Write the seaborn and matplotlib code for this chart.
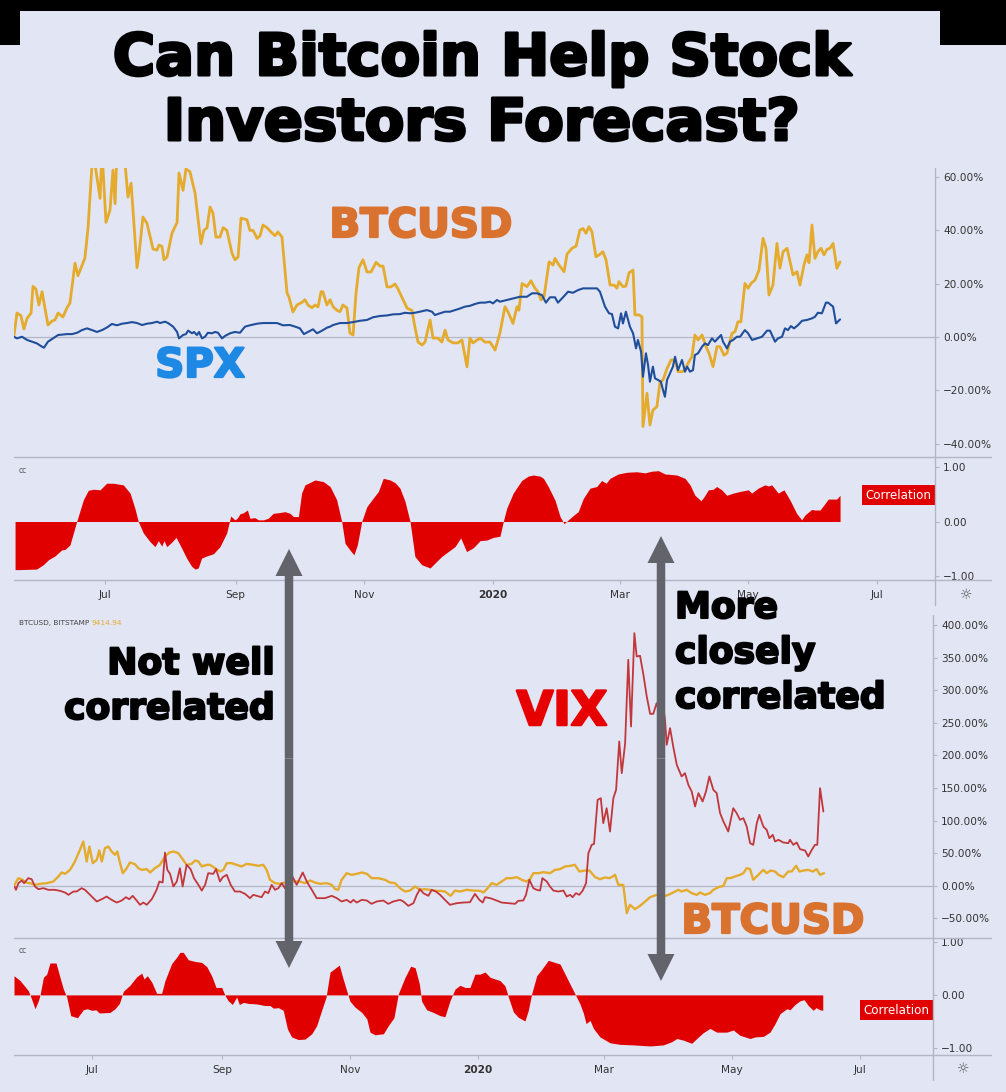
import numpy as np
import pandas as pd
import matplotlib
matplotlib.use('Agg')
import matplotlib.pyplot as plt
import matplotlib.transforms as mtrans
import matplotlib.patheffects as pe
from matplotlib.patches import Rectangle, FancyArrow
from matplotlib.lines import Line2D
import seaborn as sns

# ---- data (day offsets from series start, value) ----
top_start = '2019-05-19'
bottom_start = '2019-05-25'

btc_top = [(0, 0.7), (1.4, 9), (3.3, 8), (4.7, 3), (6.2, 7), (8.1, 9), (9.0, 19), (10.4, 18), (11.8, 12), (13.3, 17),
           (16.1, 4.5), (18.0, 6), (19.4, 6.4), (20.9, 9), (23.2, 7.5), (25.1, 11), (26.5, 12.7), (28.9, 27.7), (30.3, 23),
           (33.6, 29.6), (35.1, 41), (37.4, 70), (40.8, 52), (41.7, 70), (43.6, 43), (45.5, 47.6), (46.9, 62.6), (47.9, 50),
           (48.8, 70), (52.1, 70), (54.0, 52.5), (55.5, 57.7), (58.3, 26), (59.2, 30.7), (61.1, 45), (63.0, 42.7), (65.9, 33),
           (67.8, 32.6), (68.7, 34.5), (70.1, 34), (71.1, 29), (72.5, 30), (74.9, 39), (77.3, 43), (78.2, 61.5), (80.1, 55),
           (81.5, 63), (83.4, 62), (85.8, 54), (88.6, 35), (90.0, 40), (91.5, 41), (92.9, 48.8), (94.3, 46.5), (95.7, 37.5),
           (97.6, 37.5), (99.1, 41), (100.9, 40), (103.3, 31.5), (104.7, 29), (106.2, 30), (107.6, 44.6), (110.4, 44),
           (111.8, 40), (113.3, 40), (115.2, 37), (116.6, 38), (118.0, 42), (119.9, 41), (122.3, 39), (123.7, 38), (125.1, 39.4),
           (127.0, 37.5), (129.4, 16.5), (130.3, 15), (132.2, 9.4), (134.1, 12), (136.5, 13), (137.9, 14), (139.3, 12),
           (141.2, 11), (142.7, 12), (144.1, 11.3), (145.5, 17), (146.4, 17), (148.3, 12), (149.8, 14), (151.2, 11.4),
           (153.1, 10), (154.5, 9.5), (155.9, 12), (157.8, 10.9), (159.2, 1.5), (160.7, 0.75), (162.1, 16.5), (163.5, 26),
           (165.4, 29), (167.3, 24.4), (169.2, 24.4), (171.6, 28), (173.5, 26.6), (174.9, 26.6), (176.8, 18.8), (178.7, 18.8),
           (180.6, 19.9), (182.0, 18), (184.4, 14), (186.3, 10.8), (188.6, 10), (190.0, 3.8), (191.5, -1.9), (193.4, -3),
           (194.8, -1.9), (197.2, 6.4), (198.6, -0.4), (200.9, -0.4), (202.8, -1.9), (204.3, 2.6), (205.7, -1.1), (208.1, -2.2),
           (210.4, -2.2), (212.3, -1.1), (214.7, -11.2), (216.1, -0.4), (217.5, -2.2), (220.9, -0.4), (223.2, -1.9),
           (225.6, -1.9), (228.0, -4.9), (230.3, 1.5), (232.7, 11.4), (234.1, 9.5), (236.5, 5.1), (238.4, 11.4), (239.3, 10.1),
           (240.8, 20.1), (243.1, 18.9), (245.0, 21.1), (246.9, 18.3), (248.3, 17), (249.8, 13.9), (251.2, 15.1), (253.6, 28.2),
           (255.5, 27), (256.4, 29.5), (258.3, 27), (260.7, 24.5), (262.1, 31.1), (264.5, 33.3), (266.4, 34.1), (268.2, 40.1),
           (269.7, 40.7), (271.1, 38.9), (272.5, 41.4), (273.9, 39.5), (275.8, 30.1), (277.3, 30.8), (279.1, 32), (280.6, 28.9),
           (282.5, 19.5), (284.4, 19.5), (285.8, 18.3), (286.7, 20.8), (288.6, 18.9), (290.0, 19.1), (291.5, 24.1),
           (293.4, 25.1), (294.3, 8.3), (296.2, 8.3), (297.6, 7.6), (298.1, -33.6), (300.0, -21.1), (301.4, -33),
           (302.8, -27.4), (304.7, -26.1), (306.2, -16.8), (307.6, -16.1), (309.5, -11.8), (311.4, -8.6), (312.3, -8.6),
           (313.7, -9.9), (314.7, -13), (316.6, -13), (318.0, -12.4), (319.4, -9.9), (321.3, -7.4), (322.7, 0.75),
           (324.2, -1.1), (326.1, 0.75), (328.0, -3.6), (329.4, -6.1), (331.3, -11.1), (333.2, -3.6), (334.6, -3.6),
           (336.5, -6.8), (337.9, -6.1), (340.3, 1.4), (341.7, 2), (343.1, 5.7), (344.5, 5.7), (346.4, 20.1), (347.9, 18.3),
           (349.3, 20.1), (351.2, 21.4), (353.1, 25.1), (355.0, 37), (356.4, 33.3), (357.8, 15.8), (359.7, 19.5),
           (361.6, 35.1), (363.0, 25.8), (364.5, 32), (366.4, 33.3), (369.2, 23.3), (371.1, 24.5), (372.5, 19.5),
           (374.4, 27), (375.8, 30.8), (376.8, 27.9), (378.2, 42), (379.6, 29.5), (381.0, 32), (382.5, 33.3), (383.9, 30.8),
           (385.3, 32.9), (386.7, 33.3), (388.2, 35.1), (390.0, 25.8), (391.5, 28.2)]

spx_top = [(0, 0.1), (1.4, -0.5), (3.8, 0.1), (6.2, -1.1), (8.5, -1.75), (10.9, -2.4), (12.8, -3.4), (14.2, -4.0),
           (16.1, -1.75), (18.5, -0.5), (20.9, 0.75), (25.1, 1.1), (27.5, 1.1), (29.9, 1.6), (32.2, 2.6), (34.6, 3.25),
           (37.0, 2.6), (39.3, 1.9), (41.7, 2.6), (44.1, 3.6), (46.4, 4.9), (48.8, 4.4), (51.2, 5.0), (53.6, 5.25),
           (55.9, 5.6), (58.3, 5.25), (60.7, 4.5), (63.0, 5.0), (65.4, 5.25), (67.8, 5.75), (69.2, 5.25), (71.6, 5.75),
           (73.0, 5.25), (75.4, 3.9), (77.3, 1.9), (78.2, -0.5), (80.1, 0.75), (81.5, 1.1), (82.5, 2.4), (84.4, 1.4),
           (85.3, 1.9), (86.7, 0.75), (87.7, 1.9), (89.1, -0.5), (90.5, 0.1), (91.9, 1.6), (93.8, 1.4), (95.3, 1.9),
           (96.7, 1.6), (98.6, -0.5), (100.0, 0.4), (102.4, 1.4), (104.7, 1.9), (107.1, 1.6), (109.5, 3.9), (111.8, 4.4),
           (115.2, 5.0), (118.0, 5.25), (121.3, 5.25), (124.6, 5.25), (127.5, 4.4), (130.8, 4.5), (133.2, 3.9), (135.5, 3.25),
           (137.4, 1.1), (139.3, 1.9), (141.7, 2.9), (143.6, 1.4), (146.0, 2.4), (148.3, 3.5), (149.8, 3.9), (151.2, 4.5),
           (154.5, 5.25), (157.8, 5.25), (160.7, 5.6), (164.0, 6.1), (167.3, 6.4), (170.1, 7.4), (173.5, 7.9), (176.8, 8.1),
           (179.6, 8.5), (182.9, 8.6), (185.3, 9.1), (187.7, 8.9), (190.0, 9.1), (192.4, 9.5), (195.7, 10.1), (198.1, 9.5),
           (199.5, 8.25), (201.9, 8.9), (204.3, 9.5), (206.6, 9.5), (209.0, 10.1), (211.4, 10.7), (213.7, 11.4), (216.1, 11.7),
           (218.5, 12.4), (220.9, 12.9), (223.2, 12.9), (225.6, 13.25), (227.0, 12.6), (228.9, 13.9), (230.3, 13.25),
           (233.6, 13.9), (236.5, 14.5), (239.8, 15.1), (243.1, 15.1), (245.5, 16.4), (247.9, 16.4), (250.2, 15.75),
           (252.1, 12.9), (254.0, 14.9), (256.4, 14.9), (257.8, 12.9), (260.2, 14.9), (262.6, 17), (264.9, 16.6), (267.3, 17.6),
           (269.7, 18.25), (273.0, 18.25), (276.3, 18.25), (277.7, 17), (280.1, 11.4), (282.0, 8.9), (283.4, 8.6), (284.8, 3.9),
           (286.3, 3.25), (287.7, 8.9), (288.6, 5.1), (290.0, 9.5), (291.9, 3.9), (293.4, 1.4), (294.8, -4.25), (295.7, -1.1),
           (297.2, -5.5), (298.1, -14.9), (299.5, -6.1), (300.5, -10.5), (301.4, -16.75), (302.8, -11.1), (303.8, -15.5),
           (305.2, -16.1), (306.6, -16.75), (307.6, -19.9), (308.5, -22.4), (309.5, -16.1), (310.9, -13.6), (312.3, -11.1),
           (313.3, -7.4), (314.7, -12.4), (316.6, -8.6), (318.0, -13), (319.0, -11.1), (320.4, -13), (321.8, -12.4),
           (322.7, -6.75), (324.2, -6.1), (326.1, -3.6), (327.5, -2.4), (328.9, -3), (330.8, -0.5), (332.2, -1.75),
           (333.6, -0.5), (335.1, 0.75), (336.0, -1.75), (337.9, -4.25), (339.3, -1.75), (340.8, -1.1), (342.6, 0.1),
           (344.1, 0.1), (346.4, 2.6), (347.9, 1.4), (349.8, -1.1), (352.1, -0.5), (354.5, 0.1), (356.9, 2.4), (358.3, 2.4),
           (360.7, -1.75), (362.1, -0.5), (364.0, 0.1), (365.4, 3.25), (366.8, 2.6), (368.2, 4.1), (369.7, 3.25), (371.6, 4.5),
           (373.5, 6.1), (375.8, 6.4), (378.2, 7), (379.6, 7.6), (381.0, 9.1), (382.9, 8.9), (384.8, 12.9), (385.8, 12.9),
           (388.2, 11.4), (389.6, 5.1), (391.5, 6.6)]

corr_top = [(0.5, -0.88), (2.8, -0.88), (10.7, -0.87), (13.9, -0.79), (16.3, -0.70), (19.4, -0.63), (22.6, -0.52),
            (24.2, -0.51), (26.5, -0.43), (29.7, 0), (32.9, 0.40), (35.2, 0.57), (37.6, 0.59), (40.8, 0.58), (43.9, 0.70),
            (47.1, 0.70), (51.8, 0.67), (55.0, 0.52), (57.3, 0.24), (58.9, 0), (61.3, -0.21), (64.5, -0.37), (66.8, -0.46),
            (68.4, -0.35), (70.0, -0.45), (71.1, -0.35), (72.4, -0.46), (74.7, -0.38), (76.8, -0.29), (79.5, -0.49),
            (81.8, -0.67), (84.2, -0.82), (85.8, -0.87), (87.3, -0.85), (88.9, -0.67), (91.3, -0.63), (94.5, -0.59),
            (97.6, -0.46), (100.8, -0.21), (102.7, 0.10), (104.7, 0.03), (105.8, 0.06), (107.1, 0.14), (108.7, 0.16),
            (110.6, 0.21), (111.8, 0.06), (114.2, 0.07), (115.8, 0.03), (118.2, 0.03), (120.5, 0.06), (122.9, 0.15),
            (125.3, 0.16), (128.4, 0.18), (130.8, 0.15), (132.4, 0.09), (134.8, 0.09), (136.3, 0.52), (137.9, 0.67),
            (142.7, 0.76), (146.6, 0.73), (149.8, 0.64), (152.9, 0.40), (155.3, 0), (156.9, -0.40), (159.2, -0.52),
            (161.1, -0.61), (162.7, -0.43), (164.8, 0), (167.2, 0.27), (170.3, 0.43), (172.7, 0.55), (175.0, 0.79),
            (178.2, 0.76), (180.6, 0.71), (182.9, 0.61), (185.3, 0.37), (187.7, 0), (190.0, -0.64), (193.2, -0.79),
            (197.2, -0.85), (200.3, -0.73), (202.7, -0.64), (205.8, -0.55), (209.0, -0.46), (211.7, -0.30), (214.5, -0.55),
            (217.7, -0.48), (220.9, -0.35), (224.0, -0.34), (227.2, -0.29), (230.3, -0.27), (231.9, 0.0), (233.5, 0.24),
            (236.6, 0.52), (240.6, 0.75), (243.7, 0.83), (246.1, 0.85), (249.3, 0.83), (250.9, 0.79), (253.2, 0.64),
            (256.4, 0.39), (258.8, 0.09), (260.7, -0.04), (262.7, 0.03), (265.4, 0.12), (267.4, 0.18), (269.8, 0.42),
            (273.0, 0.61), (276.2, 0.64), (278.5, 0.75), (280.6, 0.70), (282.5, 0.79), (286.4, 0.87), (290.4, 0.90),
            (295.1, 0.91), (299.1, 0.89), (302.2, 0.92), (305.4, 0.93), (308.5, 0.87), (314.1, 0.85), (318.0, 0.79),
            (320.4, 0.67), (322.7, 0.48), (325.6, 0.38), (327.0, 0.45), (329.1, 0.58), (331.4, 0.59), (333.0, 0.64),
            (335.4, 0.58), (337.8, 0.48), (340.9, 0.52), (344.1, 0.55), (348.0, 0.58), (349.6, 0.52), (352.7, 0.61),
            (355.9, 0.67), (357.5, 0.65), (359.1, 0.67), (362.2, 0.52), (364.9, 0.58), (367.8, 0.39), (370.9, 0.15),
            (373.3, 0.03), (374.9, 0.12), (378.0, 0.22), (379.6, 0.21), (382.0, 0.21), (384.4, 0.33), (385.9, 0.41),
            (388.3, 0.41), (389.9, 0.41), (391.5, 0.48)]

btc_bottom = [(0.2, 1.5), (2.1, 11.8), (4.1, 9.2), (5.7, 5.1), (7.6, 4.1), (10.0, 1.5), (12.4, 3.1), (15.6, 4.1),
              (18.7, 6.6), (21.1, 14.3), (22.7, 20.5), (24.3, 18.4), (26.7, 24.5), (29.0, 37.3), (31.4, 55.2), (33.0, 68),
              (34.6, 37.3), (35.9, 60.3), (37.5, 34.8), (39.4, 39.9), (40.6, 54.2), (41.8, 37.3), (43.3, 57.8), (44.9, 60.3),
              (46.5, 52.7), (48.1, 47.6), (49.2, 52.7), (50.5, 34.8), (51.8, 19.4), (53.7, 27.1), (55.2, 35.8), (57.6, 33.2),
              (59.2, 27.1), (60.8, 24.5), (63.2, 25.6), (64.8, 20.5), (67.1, 27.1), (69.5, 32.2), (71.9, 45), (74.0, 51.1),
              (75.9, 52.7), (78.2, 50.1), (80.3, 40.9), (82.2, 32.2), (84.6, 33.7), (86.2, 38.9), (87.8, 37.3), (89.4, 29.7),
              (91.8, 32.2), (93.3, 32.2), (95.7, 27.1), (98.1, 22), (99.7, 24.5), (101.3, 34.8), (103.7, 34.8), (106.0, 32.2),
              (108.4, 29.7), (110.8, 33.7), (114.0, 32.2), (116.3, 30.7), (118.7, 32.2), (120.3, 24.5), (121.9, 9.2),
              (124.3, 4.1), (126.7, 3.1), (129.0, 5.1), (131.4, 7.7), (133.8, 6.6), (136.2, 6.6), (138.6, 4.1), (141.0, 8.2),
              (143.3, 5.1), (145.7, 3.1), (148.9, 4.1), (151.3, 1.5), (152.9, -5.1), (154.4, -6.1), (156.0, 9.2),
              (158.4, 19.4), (160.8, 16.9), (163.2, 18.4), (165.6, 20.5), (168.0, 18.4), (170.3, 11.8), (173.5, 11.8),
              (176.7, 9.2), (179.0, 5.1), (181.4, 4.1), (183.8, -3.6), (186.2, -8.7), (188.6, -7.2), (191.0, -1),
              (193.3, -6.1), (195.7, -5.1), (198.1, -6.1), (200.5, -7.7), (202.9, -7.7), (205.2, -8.7), (207.9, -15.3),
              (210.0, -7.2), (212.4, -8.7), (215.6, -6.1), (218.7, -7.2), (221.9, -7.7), (223.5, -10.2), (225.1, -5.1),
              (227.5, 4.1), (229.8, 1.5), (232.2, 6.6), (234.6, 11.8), (237.0, 11.8), (239.4, 13.3), (241.8, 9.2),
              (244.1, 6.6), (245.7, 10.2), (247.3, 19.4), (249.7, 19.4), (252.0, 21), (255.2, 19.4), (257.6, 24.5),
              (260.0, 25.6), (262.4, 29.7), (264.8, 30.7), (267.1, 32.2), (269.2, 22), (271.9, 23.5), (274.0, 23.5),
              (276.7, 13.3), (279.0, 10.2), (281.4, 12.8), (283.8, 11.8), (286.2, 16.9), (287.8, 1.5), (290.1, 1.5),
              (291.8, -41.9), (293.3, -29.1), (295.7, -35.8), (298.1, -30.7), (300.5, -24), (302.9, -17.4), (306.0, -13.8),
              (309.2, -16.4), (311.6, -13.8), (313.9, -10.2), (316.3, -6.1), (317.9, -8.7), (320.3, -6.1), (322.7, -11.2),
              (325.1, -13.8), (326.7, -10.2), (329.0, -13.8), (331.4, -11.2), (333.0, -6.1), (335.4, -2), (337.8, 0),
              (339.4, 11.8), (341.0, 11.8), (343.3, 14.3), (345.7, 16.9), (347.3, 19.4), (348.9, 27.1), (350.5, 25.6),
              (352.0, 9.2), (354.4, 16.9), (356.8, 24.5), (358.4, 19.4), (360.3, 23.5), (362.4, 22), (364.0, 16.9),
              (366.3, 13.3), (368.7, 22), (370.3, 22), (372.4, 30.7), (374.0, 22), (375.9, 23.5), (378.2, 24.5),
              (380.3, 22), (382.2, 25.6), (383.8, 16.9), (385.7, 19.4)]

vix_bottom = [(0.2, -1.0), (0.95, -6.1), (2.1, 4.1), (3.7, 8.2), (4.8, 4.1), (6.8, 11.8), (8.4, 10.2), (10.0, -1),
              (11.6, -5.1), (14.0, -3.6), (16.3, -6.1), (19.5, -6.1), (21.9, -7.7), (24.3, -10.2), (25.9, -13.8),
              (28.3, -8.7), (29.8, -8.7), (32.2, -3.6), (33.8, -6.1), (36.2, -13.8), (39.4, -24), (41.8, -20.5),
              (44.1, -16.4), (46.5, -21.5), (48.9, -25.6), (51.3, -22.5), (53.3, -17.4), (54.9, -20.5), (56.5, -15.3),
              (58.4, -22.5), (60.0, -29.1), (61.6, -25.6), (63.2, -29.1), (65.6, -20.5), (67.9, -6.1), (69.2, 6.6),
              (70.8, 5.1), (71.9, 51.1), (73.0, 24.5), (74.3, 18.4), (75.9, -1), (77.5, 6.6), (79.0, 27.1), (80.3, -1),
              (82.2, 32.2), (84.1, 25.6), (85.7, 11.8), (87.8, 1.5), (89.4, -7.2), (91.0, 1.5), (92.5, 19.4), (94.9, 18.4),
              (96.2, 25.6), (98.1, 6.6), (99.4, 13.3), (101.3, 16.9), (103.2, 1.5), (105.2, -8.7), (107.6, -8.7),
              (110.0, -12.3), (112.4, -18.9), (113.9, -13.8), (115.6, -15.3), (117.9, -17.4), (119.5, -8.7), (121.1, -11.2),
              (122.7, 1.5), (124.3, -6.1), (125.9, -3.6), (127.5, 4.1), (129.0, -3.6), (131.4, 22), (134.6, 1.5),
              (137.5, 20.5), (139.4, 6.6), (141.8, -6.1), (144.1, -18.9), (148.1, -18.9), (151.3, -15.3), (153.7, -18.9),
              (156.0, -24), (158.4, -21.5), (160.3, -25.6), (161.6, -21.5), (163.2, -25.6), (165.6, -21.5), (168.0, -22.5),
              (170.3, -27.6), (172.7, -24), (175.9, -22.5), (178.2, -27.6), (180.6, -24), (183.8, -21.5), (185.4, -24),
              (187.8, -30.7), (190.2, -26.6), (191.8, -13.8), (193.3, -5.1), (194.9, -11.2), (197.3, -15.3), (198.9, -6.1),
              (200.9, -8.7), (202.9, -13.8), (205.2, -21.5), (207.6, -29.1), (210.8, -26.6), (214.0, -25.6), (217.1, -25.1),
              (219.5, -12.3), (221.6, -21.5), (223.2, -25.6), (224.3, -17.4), (226.7, -18.9), (229.0, -21.5), (232.2, -25.6),
              (235.4, -26.6), (238.6, -27.6), (240.1, -23), (242.5, -22.5), (243.8, -13.8), (245.4, 9.2), (247.3, -3.6),
              (248.9, -6.1), (250.5, -7.2), (251.6, 11.8), (253.7, 6.6), (255.2, -1), (256.8, -7.2), (259.2, -8.7),
              (261.6, -7.2), (263.2, -16.4), (264.8, -13.8), (266.0, -17.4), (267.6, -11.2), (269.2, -13.8), (270.8, -7.2),
              (272.4, 4.1), (273.5, 50.1), (275.1, 62.9), (276.2, 64.4), (277.9, 131.9), (279.4, 134.5), (280.6, 96.1),
              (282.2, 119.1), (283.8, 83.3), (285.4, 134.5), (286.7, 147.3), (288.2, 221.4), (289.4, 172.8), (291.0, 218.8),
              (292.5, 346.7), (293.8, 244.4), (295.4, 387.6), (296.5, 351.8), (298.1, 352.8), (299.7, 323.7), (301.3, 290.4),
              (302.9, 263.8), (304.4, 263.8), (306.0, 280.2), (307.6, 262.3), (308.4, 290.4), (310.0, 254.6), (310.8, 216.3),
              (312.4, 241.9), (313.9, 213.7), (315.6, 185.6), (317.9, 167.7), (319.5, 172.8), (321.1, 154.9), (322.7, 144.7),
              (324.3, 121.7), (325.9, 142.2), (327.9, 129.4), (329.5, 144.7), (331.1, 167.7), (333.0, 147.3), (334.6, 142.2),
              (336.2, 111.5), (337.8, 98.7), (340.1, 83.3), (342.5, 119.1), (344.1, 111.5), (345.7, 101.2), (347.3, 103.8),
              (348.9, 91), (350.5, 65.5), (352.0, 62.9), (353.7, 96.1), (354.9, 108.9), (356.8, 91), (358.4, 85.9),
              (359.7, 73.1), (361.3, 78.2), (362.4, 68), (364.0, 70.6), (366.3, 66.5), (368.7, 65.5), (369.5, 70.6),
              (371.1, 62.9), (372.7, 66.5), (374.3, 56.2), (376.7, 54.2), (378.2, 45), (379.9, 55.2), (381.4, 62.9),
              (382.5, 62.9), (383.8, 149.8), (385.4, 114)]

corr_bottom = [(0, 0.36), (2.9, 0.27), (6.8, 0.08), (8.4, -0.08), (10.0, -0.26), (11.6, -0.11), (12.4, 0), (14.0, 0.33),
               (15.6, 0.39), (17.1, 0.6), (20.0, 0.6), (21.9, 0.33), (23.5, 0.11), (25.1, -0.04), (27.0, -0.39),
               (30.2, -0.43), (33.0, -0.28), (34.9, -0.26), (37.0, -0.29), (39.0, -0.28), (40.6, -0.34), (45.7, -0.33),
               (48.1, -0.26), (50.2, -0.16), (52.1, 0.07), (55.2, 0.18), (58.4, 0.34), (60.8, 0.41), (61.9, 0.30),
               (63.5, 0.36), (65.6, 0.24), (67.9, 0.03), (70.3, 0.03), (71.9, 0.27), (75.1, 0.59), (77.5, 0.71),
               (79.0, 0.80), (80.6, 0.80), (83.0, 0.66), (86.2, 0.63), (89.4, 0.61), (91.8, 0.53), (94.1, 0.36),
               (96.2, 0.14), (98.9, 0.14), (100.5, -0.01), (102.0, -0.11), (104.0, -0.18), (106.0, -0.04), (107.3, -0.18),
               (109.2, -0.14), (111.6, -0.16), (115.6, -0.17), (119.5, -0.2), (121.9, -0.2), (123.5, -0.25), (125.9, -0.24),
               (128.2, -0.29), (130.2, -0.64), (132.2, -0.79), (135.4, -0.84), (138.6, -0.83), (141.8, -0.73),
               (144.1, -0.58), (146.5, -0.29), (148.6, -0.04), (150.5, 0.43), (154.9, 0.56), (156.5, 0.33), (158.4, 0.08),
               (160.0, -0.12), (162.4, -0.23), (165.6, -0.33), (168.0, -0.45), (169.5, -0.70), (171.9, -0.75),
               (175.9, -0.73), (178.2, -0.58), (180.9, -0.43), (183.0, 0.02), (186.2, 0.33), (188.9, 0.54), (191.0, 0.51),
               (193.0, 0.21), (194.1, -0.12), (196.5, -0.28), (199.7, -0.33), (202.9, -0.39), (205.2, -0.41),
               (207.6, -0.11), (210.0, 0.11), (212.4, 0.18), (214.8, 0.14), (217.1, 0.14), (219.5, 0.39), (221.9, 0.39),
               (224.3, 0.43), (226.7, 0.33), (229.0, 0.30), (231.4, 0.27), (233.8, 0.17), (235.4, -0.04), (237.8, -0.32),
               (240.1, -0.42), (243.3, -0.49), (244.9, -0.29), (246.5, 0.02), (248.9, 0.36), (251.3, 0.48), (254.4, 0.65),
               (257.6, 0.61), (260.0, 0.58), (262.4, 0.39), (264.8, 0.20), (267.1, 0.02), (269.5, -0.17), (271.1, -0.34),
               (272.4, -0.54), (274.3, -0.48), (275.9, -0.63), (279.0, -0.79), (283.8, -0.90), (288.6, -0.93),
               (294.9, -0.94), (302.9, -0.96), (309.2, -0.94), (313.2, -0.88), (315.6, -0.82), (318.7, -0.85),
               (322.7, -0.91), (325.1, -0.82), (328.2, -0.71), (331.4, -0.63), (334.6, -0.70), (339.4, -0.70),
               (342.5, -0.66), (345.7, -0.76), (350.5, -0.82), (352.9, -0.79), (356.8, -0.78), (360.0, -0.70),
               (362.4, -0.54), (364.8, -0.35), (368.0, -0.26), (369.5, -0.28), (371.9, -0.18), (374.3, -0.11),
               (376.2, -0.09), (378.2, -0.20), (380.6, -0.29), (381.9, -0.24), (383.8, -0.28), (385.1, -0.29)]

tick_dates = ['2019-07-01', '2019-09-01', '2019-11-01', '2020-01-01', '2020-03-01', '2020-05-01', '2020-07-01']
tick_labels = ['Jul', 'Sep', 'Nov', '2020', 'Mar', 'May', 'Jul']
top_pct_ticks = [-40, -20, 0, 20, 40, 60]
bottom_pct_ticks = [-50, 0, 50, 100, 150, 200, 250, 300, 350, 400]
corr_ticks = [-1, 0, 1]


def to_df(points, start):
    d = pd.DataFrame(points, columns=['day', 'value'])
    d['date'] = pd.Timestamp(start) + pd.to_timedelta(d['day'], unit='D')
    return d


BG = '#e2e5f3'
BTC_C = '#e4ab2c'
SPX_C = '#1f4e9b'
VIX_C = '#c2373b'
CORR_C = '#e10000'
GRID_C = '#b3b6c6'

sns.set_style('white', {'axes.facecolor': BG, 'figure.facecolor': BG})
plt.rcParams['font.family'] = ['DejaVu Sans']

W, H = 1006, 1092
fig = plt.figure(figsize=(W / 100, H / 100), dpi=100)


def fx(px):
    return px / W


def fy(py):
    return 1 - py / H


def rect(x0, y0, x1, y1):
    return [fx(x0), fy(y1), (x1 - x0) / W, (y1 - y0) / H]


ax1 = fig.add_axes(rect(14, 168, 935, 457))
ax2 = fig.add_axes(rect(14, 457, 935, 580))
ax3 = fig.add_axes(rect(14, 612, 933, 938))
ax4 = fig.add_axes(rect(14, 938, 933, 1055))

btc_t = to_df(btc_top, top_start)
spx_t = to_df(spx_top, top_start)
cor_t = to_df(corr_top, top_start)
btc_b = to_df(btc_bottom, bottom_start)
vix_b = to_df(vix_bottom, bottom_start)
cor_b = to_df(corr_bottom, bottom_start)

# price panels
for ax in (ax1, ax3):
    ax.axhline(0, color=GRID_C, lw=0.9, zorder=1)
sns.lineplot(data=btc_t, x='date', y='value', ax=ax1, color=BTC_C, lw=2.0, zorder=3)
sns.lineplot(data=spx_t, x='date', y='value', ax=ax1, color=SPX_C, lw=1.5, zorder=4)
sns.lineplot(data=btc_b, x='date', y='value', ax=ax3, color=BTC_C, lw=1.7, zorder=3)
sns.lineplot(data=vix_b, x='date', y='value', ax=ax3, color=VIX_C, lw=1.3, zorder=4)

# correlation panels
for ax, c in ((ax2, cor_t), (ax4, cor_b)):
    ax.fill_between(c['date'], c['value'], 0, color=CORR_C, lw=0, interpolate=True)
    ax.text(0.005, 0.93, 'cc', transform=ax.transAxes, fontsize=5.5, color='#555555', va='top')
    tr = mtrans.blended_transform_factory(ax.transAxes, ax.transData)
    ax.text(0.996, c['value'].iloc[-1], 'Correlation', transform=tr, ha='right', va='center',
            color='white', fontsize=8.6,
            bbox=dict(boxstyle='square,pad=0.3', fc=CORR_C, ec='none'))

t0 = pd.Timestamp(top_start)
b0 = pd.Timestamp(bottom_start)
for ax in (ax1, ax2):
    ax.set_xlim(t0, t0 + pd.Timedelta(days=436.5))
for ax in (ax3, ax4):
    ax.set_xlim(b0, b0 + pd.Timedelta(days=437.6))

ax1.set_ylim(-45, 63.4)
ax2.set_ylim(-1.07, 1.18)
ax3.set_ylim(-80, 420)
ax4.set_ylim(-1.13, 1.07)

ax1.set_yticks(top_pct_ticks)
ax1.set_yticklabels([f'{v:.2f}%'.replace('-', '\u2212') for v in top_pct_ticks])
ax3.set_yticks(bottom_pct_ticks)
ax3.set_yticklabels([f'{v:.2f}%'.replace('-', '\u2212') for v in bottom_pct_ticks])
for ax in (ax2, ax4):
    ax.set_yticks(corr_ticks)
    ax.set_yticklabels([f'{v:.2f}'.replace('-', '\u2212') for v in corr_ticks])

tick_pos = pd.to_datetime(tick_dates)
for ax in (ax1, ax2, ax3, ax4):
    for s in ax.spines.values():
        s.set_visible(False)
    ax.yaxis.tick_right()
    ax.set_xlabel('')
    ax.set_ylabel('')
    ax.tick_params(axis='y', right=True, length=3, width=0.8, color=GRID_C, labelsize=7.6,
                   labelcolor='#333333', pad=3)
    ax.set_xticks(tick_pos)
    ax.tick_params(axis='x', bottom=True, length=3, width=0.8, color=GRID_C, labelsize=7.6,
                   labelcolor='#333333', pad=4)
for ax in (ax1, ax3):
    ax.set_xticklabels([])
    ax.tick_params(axis='x', bottom=False)
for ax in (ax2, ax4):
    ax.set_xticklabels(tick_labels)
    for lab in ax.get_xticklabels():
        if lab.get_text() == '2020':
            lab.set_fontweight('bold')

# separators
lc = dict(color=GRID_C, lw=1.0, transform=fig.transFigure)
for py in (457, 580, 938, 1055):
    fig.add_artist(Line2D([fx(14), fx(991)], [fy(py), fy(py)], **lc))
fig.add_artist(Line2D([fx(935), fx(935)], [fy(168), fy(605)], **lc))
fig.add_artist(Line2D([fx(933), fx(933)], [fy(615), fy(1080)], **lc))

# gear icons
fig.text(fx(966), fy(595), '\u263c', ha='center', va='center', fontsize=10, color='#555555')
fig.text(fx(963), fy(1069), '\u263c', ha='center', va='center', fontsize=10, color='#555555')

# symbol header bottom chart
fig.text(fx(19), fy(623), 'BTCUSD, BITSTAMP', fontsize=5.3, color='#444444', va='center')
fig.text(fx(92), fy(623), '9414.94', fontsize=5.3, color=BTC_C, va='center')

# title frame
for r in [(0, 0, 1006, 11), (0, 0, 20, 45), (940, 0, 1006, 45)]:
    fig.add_artist(Rectangle((fx(r[0]), fy(r[3])), (r[2] - r[0]) / W, (r[3] - r[1]) / H,
                             transform=fig.transFigure, color='black', lw=0))


def heavy(c, w):
    return [pe.withStroke(linewidth=w, foreground=c)]


fig.text(fx(482), fy(75), 'Can Bitcoin Help Stock', ha='center', va='baseline',
         fontsize=41.5, fontweight='bold', color='black', path_effects=heavy('black', 2.2))
fig.text(fx(482), fy(140), 'Investors Forecast?', ha='center', va='baseline',
         fontsize=41.5, fontweight='bold', color='black', path_effects=heavy('black', 2.2))

# big labels
fig.text(fx(421), fy(237), 'BTCUSD', ha='center', va='baseline', fontsize=29, fontweight='bold',
         color='#d9712f', path_effects=heavy('#d9712f', 1.6))
fig.text(fx(200), fy(377), 'SPX', ha='center', va='baseline', fontsize=29, fontweight='bold',
         color='#1e88e5', path_effects=heavy('#1e88e5', 1.6))
fig.text(fx(562), fy(725), 'VIX', ha='center', va='baseline', fontsize=34, fontweight='bold',
         color='#e60000', path_effects=heavy('#e60000', 1.8))
fig.text(fx(773), fy(933), 'BTCUSD', ha='center', va='baseline', fontsize=29, fontweight='bold',
         color='#d9712f', path_effects=heavy('#d9712f', 1.6))
for txt, xx, yy, ha in [('Not well', 275, 674, 'right'), ('correlated', 275, 719, 'right'),
                        ('More', 675, 618, 'left'), ('closely', 675, 663, 'left'),
                        ('correlated', 675, 708, 'left')]:
    fig.text(fx(xx), fy(yy), txt, ha=ha, va='baseline', fontsize=26, fontweight='bold',
             color='black', path_effects=heavy('black', 1.5))

# double arrows (inches)
ARROW_C = '#63636b'
for xpx, top_px, bot_px in [(289, 549, 968), (661, 536, 981)]:
    x = xpx / 100
    ytop = (H - top_px) / 100
    ybot = (H - bot_px) / 100
    ymid = (ytop + ybot) / 2
    for y_end in (ytop, ybot):
        fig.add_artist(FancyArrow(x, ymid, 0, y_end - ymid, width=0.085, head_width=0.27,
                                  head_length=0.27, length_includes_head=True, color=ARROW_C,
                                  lw=0, transform=fig.dpi_scale_trans, zorder=10))

fig.savefig('out.png', dpi=100, facecolor=BG)
